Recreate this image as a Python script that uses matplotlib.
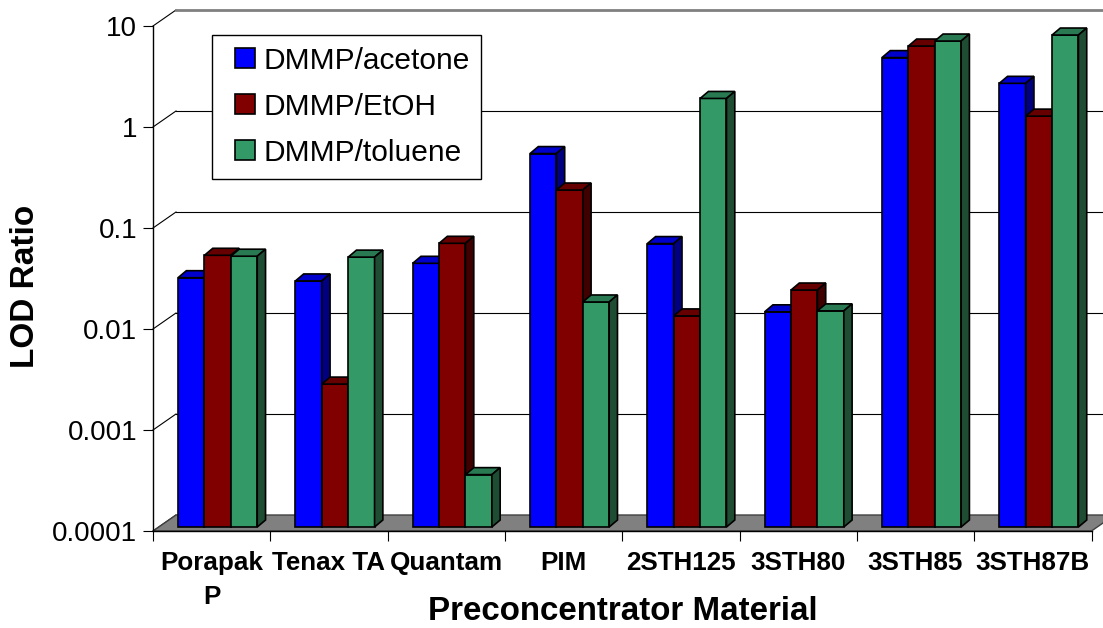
import numpy as np
import matplotlib
matplotlib.use('Agg')
import matplotlib.pyplot as plt
import matplotlib.transforms as mtransforms
from matplotlib.patches import Polygon
from matplotlib.lines import Line2D
from matplotlib.ticker import NullLocator

plt.rcParams['font.family'] = ['Liberation Sans', 'DejaVu Sans']

# data
materials = ['Porapak\nP', 'Tenax TA', 'Quantam', 'PIM', '2STH125', '3STH80', '3STH85', '3STH87B']
series = ['DMMP/acetone', 'DMMP/EtOH', 'DMMP/toluene']
acetone = [0.0294, 0.0273, 0.0408, 0.498, 0.064, 0.0135, 4.44, 2.47]
etoh = [0.049, 0.0026, 0.0644, 0.217, 0.0123, 0.0222, 5.78, 1.17]
toluene = [0.048, 0.047, 0.00033, 0.0169, 1.75, 0.0138, 6.48, 7.43]
yticks = [0.0001, 0.001, 0.01, 0.1, 1, 10]
ytick_labels = ['0.0001', '0.001', '0.01', '0.1', '1', '10']

front_colors = ['#0000ff', '#800000', '#339966']
top_colors = ['#0000cc', '#660000', '#297a52']
side_colors = ['#000080', '#400000', '#1f4d33']

W, H = 1103, 628
fig = plt.figure(figsize=(W / 100, H / 100), dpi=100)

# front plane of the 3d box (pixels, measured from top)
left, right, ytop, ybot = 153, 1091.5, 26, 531
ax = fig.add_axes([left / W, (H - ybot) / H, (right - left) / W, (ybot - ytop) / H])
ax.set_yscale('log')
ax.set_xlim(0, len(materials))
ax.set_ylim(1e-4, 10)
ax.patch.set_visible(False)

DX, DY = 23, 16   # depth of box
BX, BY = 6, 4     # bars sit a bit behind the front plane
TX, TY = 8.3, 7   # depth of a bar
pix = mtransforms.IdentityTransform()
n = len(materials)


def to_px(x, y):
    return ax.transData.transform((x, y))


# floor
fl = to_px(0, 1e-4)
fr = to_px(n, 1e-4)
ax.add_patch(Polygon([fl, fr, fr + (DX, DY), fl + (DX, DY)], closed=True, transform=pix,
                     facecolor='#808080', edgecolor='#404040', lw=1, zorder=1, clip_on=False))

# back wall gridlines + the little diagonals on the side wall
for t in yticks:
    a = to_px(0, t)
    b = to_px(n, t)
    ax.add_line(Line2D([a[0], a[0] + DX], [a[1], a[1] + DY], transform=pix,
                       color='black', lw=0.8, clip_on=False, zorder=0.5))
    if t > 1e-4:
        ax.add_line(Line2D([a[0] + DX, b[0] + DX], [a[1] + DY, b[1] + DY], transform=pix,
                           color='#808080' if t == 10 else 'black',
                           lw=2 if t == 10 else 0.8, clip_on=False, zorder=0.5))

# bars: front faces from ax.bar, then top and side faces on top
width = 0.225
xc = np.arange(n) + 0.5
shift = ax.transData + mtransforms.Affine2D().translate(BX, BY)
for k, vals in enumerate([acetone, etoh, toluene]):
    heights = np.array(vals) - 1e-4
    bars = ax.bar(xc + (k - 1) * width, heights, width, bottom=1e-4,
                  color=front_colors[k], edgecolor='black', lw=1.2)
    for b in bars:
        b.set_transform(shift)
        b.set_zorder(3 + k * 0.1)
        xl, xr = b.get_x(), b.get_x() + b.get_width()
        v = b.get_y() + b.get_height()
        p1 = shift.transform((xl, v))
        p2 = shift.transform((xr, v))
        p3 = shift.transform((xr, 1e-4))
        ax.add_patch(Polygon([p1, p2, p2 + (TX, TY), p1 + (TX, TY)], closed=True, transform=pix,
                             facecolor=top_colors[k], edgecolor='black', lw=1.2,
                             zorder=3 + k * 0.1 + 0.05, clip_on=False))
        ax.add_patch(Polygon([p2, p2 + (TX, TY), p3 + (TX, TY), p3], closed=True, transform=pix,
                             facecolor=side_colors[k], edgecolor='black', lw=1.2,
                             zorder=3 + k * 0.1 + 0.05, clip_on=False))

# axes and ticks
for s in ['top', 'right']:
    ax.spines[s].set_visible(False)
ax.spines['left'].set_linewidth(1)
ax.spines['bottom'].set_linewidth(1)
ax.set_yticks(yticks)
ax.set_yticklabels(ytick_labels, fontsize=20)
ax.yaxis.set_minor_locator(NullLocator())
ax.tick_params(axis='y', which='major', length=7.2, width=0.8, pad=4.3, direction='out')
ax.set_xticks(np.arange(n + 1))
ax.set_xticklabels([])
ax.set_xticks(xc, minor=True)
ax.set_xticklabels(materials, minor=True, fontsize=18.7, fontweight='bold')
for lbl in ax.get_xticklabels(minor=True):
    lbl.set_linespacing(1.5)
ax.tick_params(axis='x', which='minor', length=0, pad=14.5)
ax.tick_params(axis='x', which='major', length=7.2, width=0.8, direction='out')

fig.text(622.75 / W, 1 - 612 / H, 'Preconcentrator Material', ha='center', va='center',
         fontsize=23.9, fontweight='bold')
fig.text(26 / W, 1 - 286 / H, 'LOD Ratio', ha='center', va='center', rotation=90,
         fontsize=24, fontweight='bold')

handles = [Line2D([], [], ls='none', marker='s', markersize=13.7, markerfacecolor=front_colors[k],
                  markeredgecolor='black', markeredgewidth=1.2, label=series[k]) for k in range(3)]
leg = ax.legend(handles=handles, loc='upper left', bbox_to_anchor=(211.7 / W, 1 - 35 / H),
                bbox_transform=fig.transFigure, borderaxespad=0, fontsize=21.5,
                handlelength=1.44, handletextpad=-0.12, labelspacing=0.6,
                borderpad=0.4, fancybox=False, framealpha=1, edgecolor='black')
leg.get_frame().set_linewidth(1)
leg.set_zorder(10)

fig.savefig('out.png', dpi=100)
